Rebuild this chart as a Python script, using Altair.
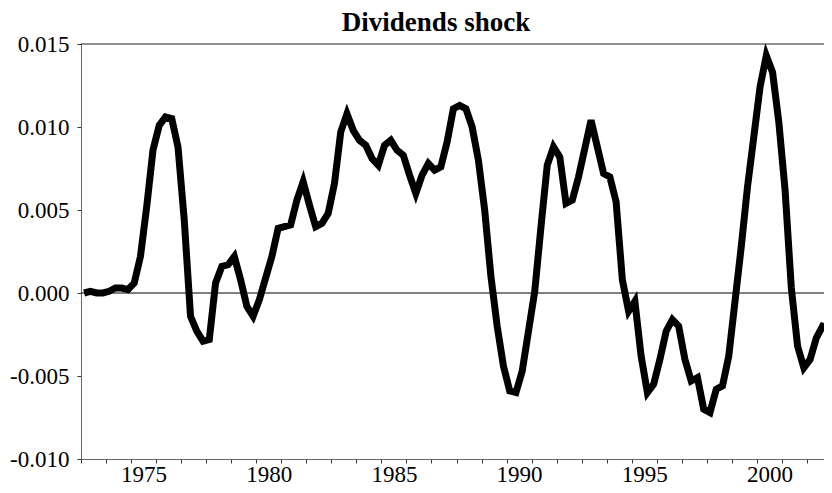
import altair as alt
import pandas as pd

title_text = "Dividends shock"
start_year = 1973

# quarterly values, 1973Q1 ... 2003Q1 (last one falls just past the right edge)
values = [
    0.0000, 0.0001, 0.0000, 0.0000, 0.0001, 0.0003, 0.0003, 0.0002,   # 1973-74
    0.0006, 0.0022, 0.0052, 0.0086, 0.0101, 0.0106, 0.0105, 0.0088,   # 1975-76
    0.0044, -0.0014, -0.0023, -0.0029, -0.0028, 0.0006, 0.0016, 0.0017,  # 1977-78
    0.0022, 0.0008, -0.0008, -0.0014, -0.0004, 0.0009, 0.0022, 0.0039,  # 1979-80
    0.0040, 0.0041, 0.0056, 0.0067, 0.0053, 0.0040, 0.0042, 0.0048,   # 1981-82
    0.0066, 0.0097, 0.0108, 0.0098, 0.0092, 0.0089, 0.0081, 0.0077,   # 1983-84
    0.0089, 0.0092, 0.0086, 0.0083, 0.0071, 0.0060, 0.0071, 0.0078,   # 1985-86
    0.0074, 0.0076, 0.0091, 0.0111, 0.0113, 0.0111, 0.0100, 0.0080,   # 1987-88
    0.0050, 0.0010, -0.0020, -0.0044, -0.0059, -0.0060, -0.0047, -0.0023,  # 1989-90
    0.0001, 0.0040, 0.0077, 0.0088, 0.0082, 0.0054, 0.0056, 0.0070,   # 1991-92
    0.0087, 0.0104, 0.0088, 0.0072, 0.0070, 0.0055, 0.0008, -0.0011,  # 1993-94
    -0.0005, -0.0038, -0.0060, -0.0055, -0.0040, -0.0023, -0.0016, -0.0020,  # 1995-96
    -0.0040, -0.0053, -0.0051, -0.0070, -0.0072, -0.0058, -0.0056, -0.0038,  # 1997-98
    -0.0005, 0.0028, 0.0064, 0.0094, 0.0124, 0.0143, 0.0133, 0.0103,  # 1999-2000
    0.0062, 0.0003, -0.0032, -0.0045, -0.0040, -0.0027, -0.0020, -0.0021,  # 2001-02
    -0.0036,  # 2003Q1
]

y_ticks = [-0.010, -0.005, 0.000, 0.005, 0.010, 0.015]
x_ticks = list(range(1973, 2003))
label_years = [1975, 1980, 1985, 1990, 1995, 2000]
x_domain = [1973, 2002.68]   # the reference frame is cut by the page edge
y_domain = [-0.010, 0.015]

font = "Liberation Serif"

df = pd.DataFrame({
    "t": [start_year + (i + 0.5) / 4 for i in range(len(values))],
    "v": values,
})

x_enc = alt.X(
    "t:Q",
    scale=alt.Scale(domain=x_domain, nice=False, zero=False),
    axis=alt.Axis(
        values=x_ticks,
        labelExpr=f"indexof({label_years}, datum.value) >= 0 ? toString(datum.value) : ''",
        labelOffset=12.5,
        labelFlush=False,
        labelOverlap=False,
        labelPadding=0,
        tickSize=4,
        title=None,
        grid=False,
    ),
)
y_enc = alt.Y(
    "v:Q",
    scale=alt.Scale(domain=y_domain, nice=False, zero=False),
    axis=alt.Axis(
        values=y_ticks,
        labelExpr="replace(format(datum.value, '.3f'), '\u2212', '-')",
        tickSize=4,
        labelPadding=8,
        title=None,
        grid=False,
        labelFlush=False,
        labelOverlap=False,
    ),
)

zero = alt.Chart(pd.DataFrame({"y": [0.0]})).mark_rule(
    color="black", strokeWidth=1
).encode(y=alt.Y("y:Q"))

top = alt.Chart(pd.DataFrame({"y": [y_domain[1]]})).mark_rule(
    color="#222", strokeWidth=1
).encode(y=alt.Y("y:Q"))

line = alt.Chart(df).mark_line(
    color="black", strokeWidth=7, clip=True
).encode(x=x_enc, y=y_enc)

title = alt.Chart(pd.DataFrame({"text": [title_text]})).mark_text(
    font=font, fontSize=27, fontWeight="bold", color="black",
    align="center", baseline="alphabetic",
).encode(x=alt.value(355), y=alt.value(-13), text="text:N")

chart = alt.layer(zero, top, line, title).properties(
    width=743,
    height=415,
    padding={"left": 73, "top": 36, "right": 0, "bottom": 26},
    autosize=alt.AutoSizeParams(type="none"),
    background="white",
).configure_view(
    strokeWidth=0
).configure_axis(
    labelFont=font, labelFontSize=23, labelColor="black",
    domainColor="#666", tickColor="#333", domainWidth=1,
)

chart.save("out.html", embed_options={"renderer": "svg", "actions": False})
